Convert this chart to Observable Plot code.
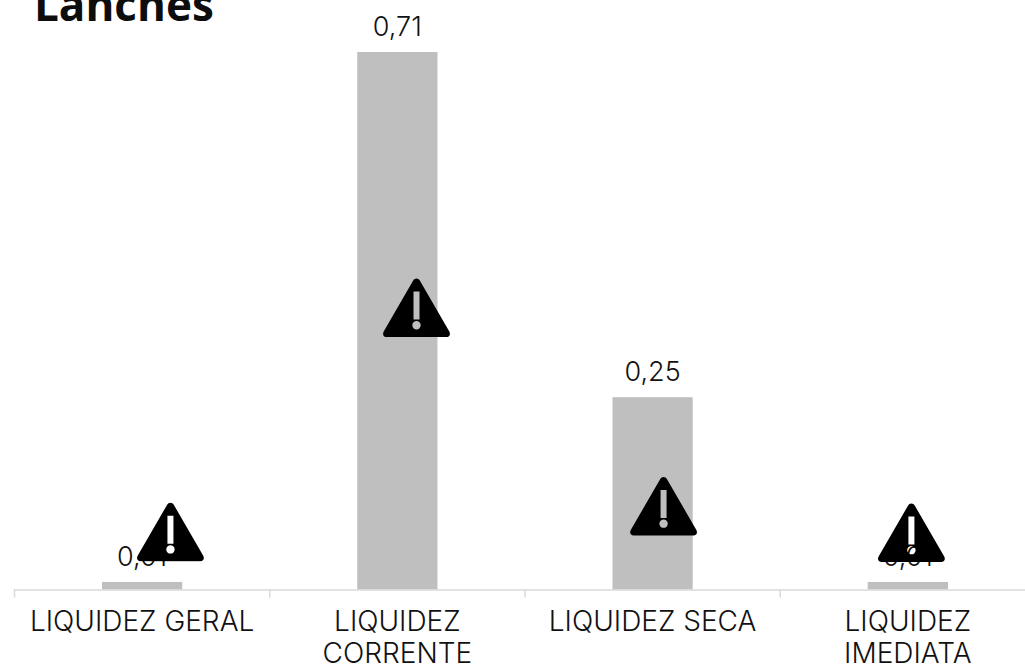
<!DOCTYPE html>
<html>
<head>
<meta charset="utf-8">
<script src="https://cdn.jsdelivr.net/npm/d3@7"></script>
<script src="https://cdn.jsdelivr.net/npm/@observablehq/plot@0.6"></script>
<style>
html,body{margin:0;padding:0;background:#fff;overflow:hidden}
#chart{position:relative;width:1025px;height:667px;overflow:hidden}
#chart svg{display:block}
#title{position:absolute;left:34px;top:-24px;font:700 44px/56px "Open Sans",sans-serif;color:#0d0d0d}
</style>
</head>
<body>
<div id="chart"><div id="title">Lanches</div></div>
<script>
const categories = ["LIQUIDEZ GERAL", "LIQUIDEZ\nCORRENTE", "LIQUIDEZ SECA", "LIQUIDEZ\nIMEDIATA"];
const values = [0.01, 0.71, 0.254, 0.01];
const valueLabels = ["0,01", "0,71", "0,25", "0,01"];
const tickPositions = [0, 1, 2, 3];
const iconX = [0.611, 1.575, 2.543, 3.514];
const iconY = [0.077, 0.373, 0.111, 0.076];

const icon = "data:image/svg+xml," + encodeURIComponent(
  '<svg xmlns="http://www.w3.org/2000/svg" viewBox="0 0 68 60" width="68" height="60">' +
  '<path fill-rule="evenodd" fill="#000" d="M34 1c1.5 0 2.6.8 3.3 2L66.8 54c1.5 2.8.2 5.5-3 5.5H4.2c-3.2 0-4.5-2.7-3-5.5L30.7 3C31.4 1.800 32.500 1 34 1Z' +
  'M31 14v28h6V14ZM34 43.500a4.200 4.200 0 1 0 0 8.400a4.200 4.200 0 1 0 0-8.400Z"/></svg>');

const textColor = "#111";
const plot = Plot.plot({
  width: 1025, height: 667,
  marginLeft: 14, marginRight: 0, marginTop: 52, marginBottom: 77.5,
  style: {fontFamily: '"Inter", sans-serif', background: "#fff", overflow: "hidden"},
  x: {domain: [0, 3.961], axis: null},
  y: {domain: [0, 0.71], axis: null},
  marks: [
    Plot.rect(values, {x1: (d, i) => i, x2: (d, i) => i + 1, y1: 0, y2: d => d, insetLeft: 88, insetRight: 87, fill: "#bfbfbf"}),
    Plot.ruleY([0], {stroke: "#d9d9d9", strokeWidth: 1.5}),
    Plot.ruleX(tickPositions, {x: d => d, y1: 0, y2: -0.0106, stroke: "#d9d9d9", strokeWidth: 1.5}),
    Plot.text(values, {x: (d, i) => i + 0.5, y: d => d, text: (d, i) => valueLabels[i], dy: -25, fontSize: 27, fontWeight: 300, fill: textColor, lineAnchor: "middle"}),
    Plot.text(categories, {x: (d, i) => i + 0.5, y: 0, text: d => d, dy: 18, lineAnchor: "top", fontSize: 28, fontWeight: 300, lineHeight: 1.15, fill: textColor}),
    Plot.image(iconX, {x: d => d, y: (d, i) => iconY[i], src: icon, width: 68, height: 60})
  ]
});
document.getElementById("chart").prepend(plot);
</script>
</body>
</html>
